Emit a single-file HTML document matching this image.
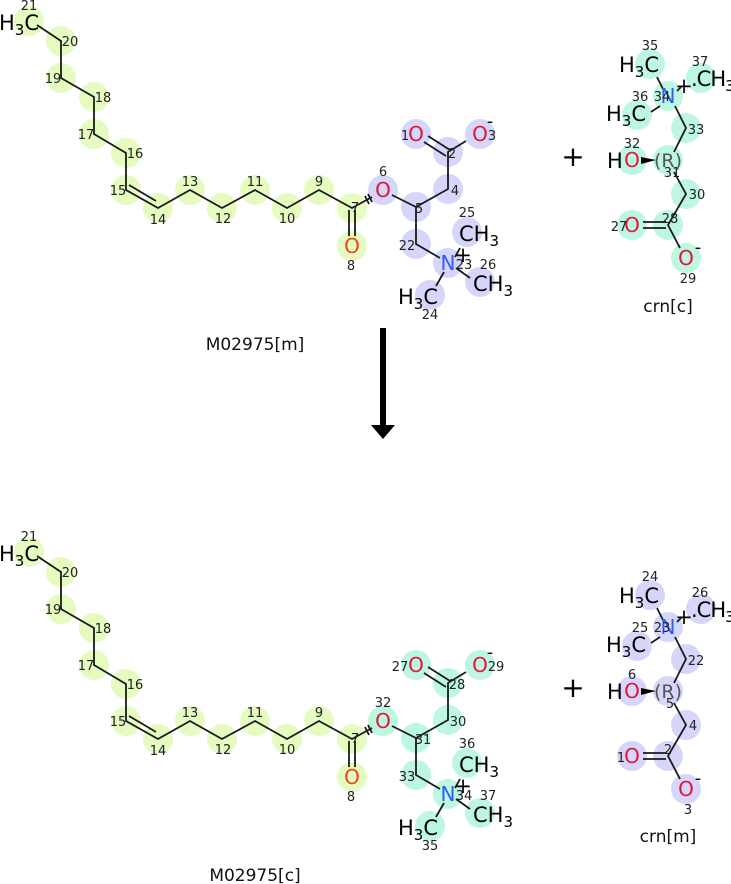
<!DOCTYPE html>
<html><head><meta charset="utf-8"><style>
html,body{margin:0;padding:0;background:#fff}
svg{display:block}
text{font-family:"DejaVu Sans","Liberation Sans",sans-serif}
.n{font-size:13px;fill:#222;text-anchor:middle}
.a{font-size:20px;text-anchor:middle}
.o{fill:#e0163a}.oo{fill:#f0441a}.nb{fill:#2f5cf5}
.b{stroke:#1a1a1a;stroke-width:1.8;fill:none}
.t{font-size:17px;fill:#111;text-anchor:middle}
.s{font-size:21px;fill:#000}
.sub{font-size:15px}
</style></head><body>
<svg width="731" height="884" viewBox="0 0 731 884" xmlns="http://www.w3.org/2000/svg">
<defs>
<g id="chain">
<g fill="#e5fbc0">
<circle cx="29" cy="21" r="15"/><circle cx="61" cy="41" r="15"/><circle cx="61" cy="78" r="15"/><circle cx="94" cy="97" r="15"/><circle cx="94" cy="134" r="15"/><circle cx="126" cy="153" r="15"/><circle cx="126" cy="190" r="15"/><circle cx="158" cy="208" r="15"/><circle cx="190" cy="190" r="15"/><circle cx="222" cy="208" r="15"/><circle cx="255" cy="190" r="15"/><circle cx="287" cy="208" r="15"/><circle cx="319" cy="190" r="15"/><circle cx="352" cy="208" r="15"/><circle cx="352" cy="246" r="15"/>
</g>
<path class="b" d="M37 25 L61 41 L61 78 L94 97 L94 134 L126 153 L126 190 L158 208 L190 190 L222 208 L255 190 L287 208 L319 190 L352 208 L372 197 M129 185 L156 201 M349 210 L349 236 M355 210 L355 236 M365 196 L369 204 M368 194 L372 202"/>
<text x="-1" y="30" class="s">H<tspan class="sub" dy="5">3</tspan><tspan dy="-5">C</tspan></text>
<text class="n" x="29" y="10">21</text><text class="n" x="70" y="46">20</text><text class="n" x="53" y="83">19</text><text class="n" x="103" y="102">18</text><text class="n" x="86" y="139">17</text><text class="n" x="135" y="158">16</text><text class="n" x="118" y="195">15</text><text class="n" x="158" y="224">14</text><text class="n" x="190" y="186">13</text><text class="n" x="223" y="223">12</text><text class="n" x="255" y="186">11</text><text class="n" x="287" y="223">10</text><text class="n" x="319" y="186">9</text><text class="n" x="355" y="212" font-size="10">7</text>
<text class="a oo" x="352" y="253">O</text><text class="n" x="351" y="270">8</text>
</g>
<g id="headb">
<path class="b" d="M392 195 L416 207 L448 189 L448 152 L466 141 M446 156 L424 142 M450 150 L428 136 M416 207 L416 244 L440 258 M444 272 L436 286 M456 268 L470 278 M455 257 L460 248"/>
<text class="a o" x="383" y="197">O</text>
<text class="a o" x="416" y="141">O</text><text class="a o" x="480" y="141">O</text>
<text class="a nb" x="448" y="270">N</text>
<text x="463" y="262" font-size="21" fill="#000" text-anchor="middle">+</text>
<text x="490" y="127" font-size="18" fill="#000" text-anchor="middle">-</text>
<text x="459" y="241" class="s">CH<tspan class="sub" dy="5">3</tspan></text>
<text x="473" y="291" class="s">CH<tspan class="sub" dy="5">3</tspan></text>
<text x="398" y="304" class="s">H<tspan class="sub" dy="5">3</tspan><tspan dy="-5">C</tspan></text>
</g>
<g id="crnb">
<path class="b" d="M657 77 L663 89 M651 112 L660 106 M677 91 L681 87 M675 106 L686 128 L674 152 M674 172 L686 194 L668 225 L680 248 M666 222 L643 222 M666 228 L643 228"/>
<path d="M641 157 L656 160 L641 164 Z" fill="#000"/>
<text class="a nb" x="668" y="103">N</text>
<text x="684" y="93" font-size="21" fill="#000" text-anchor="middle">+</text>
<text x="619" y="72" class="s">H<tspan class="sub" dy="5">3</tspan><tspan dy="-5">C</tspan></text>
<text x="606" y="121" class="s">H<tspan class="sub" dy="5">3</tspan><tspan dy="-5">C</tspan></text>
<text x="691" y="86" class="s" letter-spacing="-1">.CH<tspan class="sub" dy="5">3</tspan></text>
<text x="607" y="168" class="s">H</text><text class="a o" x="632" y="167">O</text>
<text x="668" y="167" font-family="Liberation Serif,serif" font-size="19" fill="#555" text-anchor="middle">(R)</text>
<text class="a o" x="632" y="232">O</text><text class="a o" x="686" y="265">O</text>
<text x="698" y="253" font-size="18" fill="#000" text-anchor="middle">-</text>
<text x="573" y="166" font-size="28" fill="#000" text-anchor="middle">+</text>
</g>
</defs>

<!-- TOP -->
<g fill="#d6d6fa">
<circle cx="383" cy="190" r="15"/><circle cx="416" cy="207" r="15"/><circle cx="448" cy="189" r="15"/><circle cx="448" cy="152" r="15"/><circle cx="416" cy="134" r="15"/><circle cx="480" cy="134" r="15"/><circle cx="416" cy="244" r="15"/><circle cx="448" cy="263" r="15"/><circle cx="467" cy="232" r="15"/><circle cx="480" cy="282" r="15"/><circle cx="430" cy="295" r="15"/>
</g>
<g fill="#bdf7e2">
<circle cx="650" cy="64" r="15"/><circle cx="668" cy="96" r="15"/><circle cx="701" cy="78" r="15"/><circle cx="637" cy="115" r="15"/><circle cx="686" cy="128" r="15"/><circle cx="668" cy="160" r="15"/><circle cx="632" cy="160" r="15"/><circle cx="686" cy="194" r="15"/><circle cx="668" cy="225" r="15"/><circle cx="632" cy="225" r="15"/><circle cx="686" cy="258" r="15"/>
</g>
<use href="#chain"/><use href="#headb"/><use href="#crnb"/>
<g class="n">
<text x="383" y="176">6</text><text x="419" y="213">5</text><text x="405" y="140">1</text><text x="492" y="140">3</text><text x="452" y="158">2</text><text x="455" y="195">4</text><text x="407" y="250">22</text><text x="464" y="269">23</text><text x="488" y="269">26</text><text x="467" y="217">25</text><text x="430" y="319">24</text>
<text x="650" y="50">35</text><text x="700" y="66">37</text><text x="640" y="101">36</text><text x="662" y="101">34</text><text x="696" y="134">33</text><text x="672" y="177">31</text><text x="632" y="148">32</text><text x="697" y="199">30</text><text x="670" y="223">28</text><text x="619" y="231">27</text><text x="688" y="283">29</text>
</g>
<text class="t" x="255" y="350">M02975[m]</text>
<text class="t" x="668" y="312">crn[c]</text>

<!-- ARROW -->
<rect x="380" y="328" width="6" height="98" fill="#000"/>
<path d="M371 425 L395 425 L383 439 Z" fill="#000"/>

<!-- BOTTOM -->
<g transform="translate(0,531)">
<g fill="#bdf7e2">
<circle cx="383" cy="190" r="15"/><circle cx="416" cy="207" r="15"/><circle cx="448" cy="189" r="15"/><circle cx="448" cy="152" r="15"/><circle cx="416" cy="134" r="15"/><circle cx="480" cy="134" r="15"/><circle cx="416" cy="244" r="15"/><circle cx="448" cy="263" r="15"/><circle cx="467" cy="232" r="15"/><circle cx="480" cy="282" r="15"/><circle cx="430" cy="295" r="15"/>
</g>
<g fill="#d6d6fa">
<circle cx="650" cy="64" r="15"/><circle cx="668" cy="96" r="15"/><circle cx="701" cy="78" r="15"/><circle cx="637" cy="115" r="15"/><circle cx="686" cy="128" r="15"/><circle cx="668" cy="160" r="15"/><circle cx="632" cy="160" r="15"/><circle cx="686" cy="194" r="15"/><circle cx="668" cy="225" r="15"/><circle cx="632" cy="225" r="15"/><circle cx="686" cy="258" r="15"/>
</g>
<use href="#chain"/><use href="#headb"/><use href="#crnb"/>
<g class="n">
<text x="383" y="176">32</text><text x="423" y="213">31</text><text x="400" y="140">27</text><text x="496" y="140">29</text><text x="457" y="158">28</text><text x="458" y="195">30</text><text x="407" y="250">33</text><text x="464" y="269">34</text><text x="488" y="269">37</text><text x="467" y="217">36</text><text x="430" y="319">35</text>
<text x="650" y="50">24</text><text x="700" y="66">26</text><text x="640" y="101">25</text><text x="662" y="101">23</text><text x="696" y="134">22</text><text x="670" y="177">5</text><text x="632" y="148">6</text><text x="693" y="199">4</text><text x="668" y="223">2</text><text x="621" y="231">1</text><text x="688" y="283">3</text>
</g>
<text class="t" x="255" y="350">M02975[c]</text>
<text class="t" x="668" y="311">crn[m]</text>
</g>
</svg>
</body></html>
